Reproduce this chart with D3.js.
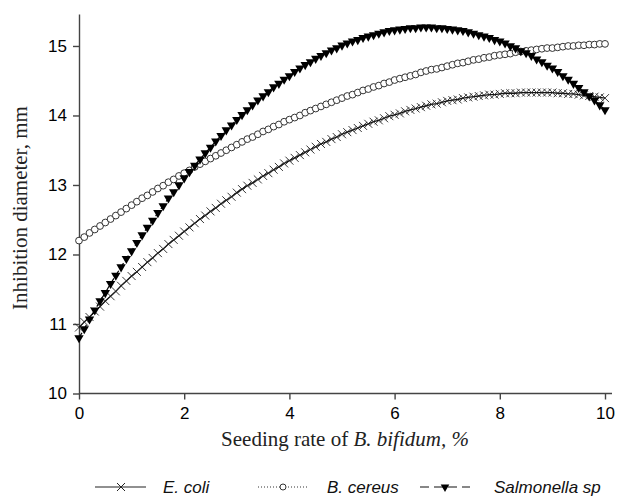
<!DOCTYPE html>
<html><head><meta charset="utf-8">
<script src="https://cdn.jsdelivr.net/npm/d3@7"></script>
<style>body{margin:0;background:#fff}</style>
</head><body><svg id="c" width="624" height="496"></svg>
<script>
const seedingRate = d3.range(0, 101).map(i => i / 10);
const ecoli = [10.95,11.03,11.10,11.18,11.25,11.33,11.40,11.47,11.55,11.62,
11.69,11.75,11.82,11.89,11.95,12.02,12.08,12.15,12.21,12.27,
12.33,12.39,12.45,12.51,12.56,12.62,12.67,12.73,12.78,12.83,
12.89,12.94,12.99,13.03,13.08,13.13,13.17,13.22,13.26,13.31,
13.35,13.39,13.43,13.47,13.51,13.55,13.59,13.62,13.66,13.69,
13.73,13.76,13.79,13.82,13.85,13.88,13.91,13.93,13.96,13.99,
14.01,14.03,14.06,14.08,14.10,14.12,14.14,14.16,14.17,14.19,
14.21,14.22,14.23,14.25,14.26,14.27,14.28,14.29,14.30,14.30,
14.31,14.32,14.32,14.32,14.33,14.33,14.33,14.33,14.33,14.33,
14.33,14.32,14.32,14.31,14.31,14.30,14.29,14.28,14.27,14.26,
14.25];
const bcereus = [12.20,12.25,12.31,12.36,12.41,12.46,12.51,12.56,12.61,12.66,
12.71,12.76,12.81,12.85,12.90,12.95,12.99,13.04,13.08,13.13,
13.17,13.21,13.26,13.30,13.34,13.38,13.42,13.46,13.50,13.54,
13.58,13.62,13.66,13.69,13.73,13.77,13.80,13.84,13.87,13.91,
13.94,13.97,14.00,14.04,14.07,14.10,14.13,14.16,14.19,14.22,
14.25,14.28,14.30,14.33,14.36,14.38,14.41,14.43,14.46,14.48,
14.51,14.53,14.55,14.57,14.59,14.62,14.64,14.66,14.67,14.69,
14.71,14.73,14.75,14.76,14.78,14.80,14.81,14.83,14.84,14.86,
14.87,14.88,14.89,14.91,14.92,14.93,14.94,14.95,14.96,14.97,
14.97,14.98,14.99,15.00,15.00,15.01,15.01,15.02,15.02,15.03,
15.03];
const salmonella = [10.80,10.93,11.07,11.20,11.33,11.45,11.58,11.70,11.82,11.94,
12.05,12.17,12.28,12.39,12.49,12.60,12.70,12.81,12.90,13.00,
13.10,13.19,13.28,13.37,13.46,13.54,13.63,13.71,13.79,13.86,
13.94,14.01,14.08,14.15,14.22,14.28,14.34,14.41,14.46,14.52,
14.57,14.63,14.68,14.73,14.77,14.82,14.86,14.90,14.94,14.97,
15.01,15.04,15.07,15.09,15.12,15.14,15.16,15.18,15.20,15.22,
15.23,15.24,15.25,15.26,15.26,15.27,15.27,15.27,15.26,15.26,
15.25,15.24,15.23,15.22,15.20,15.18,15.16,15.14,15.12,15.09,
15.07,15.04,15.00,14.97,14.93,14.90,14.86,14.81,14.77,14.72,
14.68,14.63,14.57,14.52,14.46,14.40,14.34,14.28,14.22,14.15,
14.08];
const xTicks = [0, 2, 4, 6, 8, 10];
const yTicks = [10, 11, 12, 13, 14, 15];
const seriesNames = ["E. coli", "B. cereus", "Salmonella sp"];

const svg = d3.select("#c");
const x = d3.scaleLinear().domain([0, 10]).range([79, 605]);
const y = d3.scaleLinear().domain([10, 15.46]).range([393.5, 14]);
const axisColor = "#444";
const tickFont = "'Liberation Sans Narrow', 'Arial Narrow', sans-serif";

// Y axis
const ya = svg.append("g").attr("transform", "translate(79,0)")
  .call(d3.axisLeft(y).tickValues(yTicks).tickFormat(d3.format("d")).tickSize(6).tickSizeOuter(0).tickPadding(6));
ya.select(".domain").attr("stroke", axisColor).attr("stroke-width", 1.4);
ya.selectAll(".tick line").attr("stroke", axisColor).attr("stroke-width", 1.4);
ya.selectAll(".tick text").attr("font-family", tickFont).attr("font-size", 17).attr("fill", "#000");

// X axis
const xa = svg.append("g").attr("transform", "translate(0,393.5)")
  .call(d3.axisBottom(x).tickValues(xTicks).tickFormat(d3.format("d")).tickSize(6).tickSizeOuter(0).tickPadding(7));
xa.select(".domain").remove();
xa.append("line").attr("x1", 79).attr("x2", 612).attr("y1", 0).attr("y2", 0)
  .attr("stroke", axisColor).attr("stroke-width", 1.4);
xa.selectAll(".tick line").attr("stroke", axisColor).attr("stroke-width", 1.4);
xa.selectAll(".tick text").attr("font-family", tickFont).attr("font-size", 17).attr("fill", "#000");

// Axis titles
svg.append("text").attr("transform", "translate(27,208) rotate(-90)")
  .attr("text-anchor", "middle").attr("font-family", "'Liberation Serif', 'Times New Roman', serif")
  .attr("font-size", 21).attr("fill", "#222").text("Inhibition diameter, mm");
const xt = svg.append("text").attr("x", 345).attr("y", 446)
  .attr("text-anchor", "middle").attr("font-family", "'Liberation Serif', 'Times New Roman', serif")
  .attr("font-size", 21).attr("fill", "#222");
xt.append("tspan").text("Seeding rate of ");
xt.append("tspan").attr("font-style", "italic").text("B. bifidum, %");

// Markers
const crossPath = r => `M${-r},${-r}L${r},${r}M${-r},${r}L${r},${-r}`;
const tri = d3.symbol().type(d3.symbolTriangle).size(38)();
const line = d3.line().x((d, i) => x(seedingRate[i])).y(d => y(d));

// E. coli
svg.append("path").attr("d", line(ecoli)).attr("fill", "none").attr("stroke", "#111").attr("stroke-width", 1.3);
svg.append("g").selectAll("path").data(ecoli).join("path")
  .attr("transform", (d, i) => `translate(${x(seedingRate[i])},${y(d)})`)
  .attr("d", crossPath(4)).attr("stroke", "#222").attr("stroke-width", 0.9).attr("fill", "none");

// B. cereus
svg.append("path").attr("d", line(bcereus)).attr("fill", "none").attr("stroke", "#222").attr("stroke-dasharray", "1,2");
svg.append("g").selectAll("circle").data(bcereus).join("circle")
  .attr("cx", (d, i) => x(seedingRate[i])).attr("cy", d => y(d)).attr("r", 3.4)
  .attr("fill", "#fff").attr("stroke", "#333").attr("stroke-width", 1);

// Salmonella
svg.append("path").attr("d", line(salmonella)).attr("fill", "none").attr("stroke", "#000").attr("stroke-width", 1.2).attr("stroke-dasharray", "6,3");
svg.append("g").selectAll("path").data(salmonella).join("path")
  .attr("transform", (d, i) => `translate(${x(seedingRate[i])},${y(d)}) rotate(180)`)
  .attr("d", tri).attr("fill", "#000");

// Legend
const legFont = "'Liberation Sans', Arial, sans-serif";
const lg = svg.append("g");
const ly = 487;
lg.append("line").attr("x1", 95).attr("x2", 146).attr("y1", ly).attr("y2", ly).attr("stroke", "#222").attr("stroke-width", 1.2);
lg.append("path").attr("transform", `translate(121,${ly})`).attr("d", crossPath(4)).attr("stroke", "#222").attr("stroke-width", 1);
lg.append("text").attr("x", 163).attr("y", ly + 6).attr("font-family", legFont).attr("font-style", "italic").attr("font-size", 17).attr("fill", "#111").text(seriesNames[0]);
lg.append("line").attr("x1", 258).attr("x2", 308).attr("y1", ly).attr("y2", ly).attr("stroke", "#333").attr("stroke-dasharray", "1,2");
lg.append("circle").attr("cx", 283).attr("cy", ly).attr("r", 3).attr("fill", "#fff").attr("stroke", "#333");
lg.append("text").attr("x", 327).attr("y", ly + 6).attr("font-family", legFont).attr("font-style", "italic").attr("font-size", 17).attr("fill", "#111").text(seriesNames[1]);
lg.append("line").attr("x1", 420).attr("x2", 470).attr("y1", ly).attr("y2", ly).attr("stroke", "#111").attr("stroke-width", 1.2).attr("stroke-dasharray", "9,5");
lg.append("path").attr("transform", `translate(445,${ly}) rotate(180)`).attr("d", d3.symbol().type(d3.symbolTriangle).size(32)()).attr("fill", "#000");
lg.append("text").attr("x", 494).attr("y", ly + 6).attr("font-family", legFont).attr("font-style", "italic").attr("font-size", 17).attr("fill", "#111").text(seriesNames[2]);
</script></body></html>
